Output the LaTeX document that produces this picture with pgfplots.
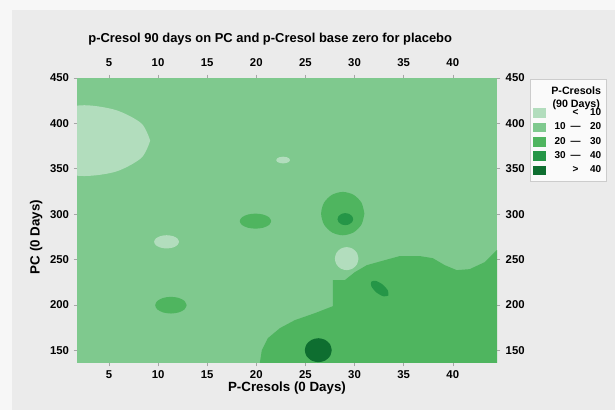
\documentclass[border=0pt]{standalone}
\usepackage{pgfplots}
\pgfplotsset{compat=1.18}
\usepackage{fontspec}
\setmainfont{Liberation Sans}
\definecolor{cA}{HTML}{B2DDBD}
\definecolor{cB}{HTML}{7FC98E}
\definecolor{cC}{HTML}{4FB55F}
\definecolor{cD}{HTML}{259647}
\definecolor{cE}{HTML}{0E6E30}
\definecolor{panel}{HTML}{EBEBEB}
\definecolor{outer}{HTML}{F7F7F7}
\newcommand{\lgent}[3]{\makebox[1.75em][r]{#1}\makebox[2.0em][c]{#2}\makebox[1.55em][r]{#3}}
\begin{document}
\begin{tikzpicture}
\fill[outer] (-57.75pt,-35.25pt) rectangle (403.5pt,272.25pt);
\fill[panel] (-48.75pt,-35.25pt) rectangle (403.5pt,264.75pt);
\begin{axis}[
  at={(0,0)}, anchor=south west,
  scale only axis, width=315pt, height=213.75pt,
  xmin=1.75, xmax=44.5, ymin=136, ymax=450,
  xtick={5,10,...,40}, ytick={150,200,...,450},
  axis background/.style={fill=cB},
  axis line style={draw=none},
  tick align=outside, major tick length=2.5pt,
  tick style={gray!70, thin},
  /pgf/number format/assume math mode=true,
  tick label style={font=\bfseries\fontsize{8.5}{10}\selectfont},
  label style={font=\bfseries\fontsize{10}{12}\selectfont},
  xlabel={P-Cresols (0 Days)}, ylabel={PC (0 Days)},
  xlabel style={at={(axis description cs:0.5,-0.088)}, anchor=center},
  ylabel style={at={(axis description cs:-0.097,0.442)}, anchor=center},
  title={p-Cresol 90 days on PC and p-Cresol base zero for placebo},
  title style={font=\bfseries\fontsize{9.7}{12}\selectfont, at={(axis description cs:0.46,1.137)}, anchor=center, yshift=0pt},
  every axis title shift=0pt,
  legend image code/.code={\fill[#1] (0pt,-3.2pt) rectangle (9pt,3.2pt);},
  legend style={at={(1.0786,0.997)}, anchor=north west, draw=gray!40, fill=white!96!gray,
    font=\bfseries\fontsize{7.5}{8.5}\selectfont, row sep=0pt, inner xsep=2pt, inner ysep=3pt},
  legend cell align=right,
]
% 20-30 lower right region
\addplot[fill=cC, draw=none, forget plot] coordinates {
(20.36,130) (20.36,136) (20.56,150.1) (21.17,163.3) (22.40,174.4) (23.92,183.2)
(25.96,190.9) (27.79,198.6) (27.79,227.3) (29.01,227.3) (30.03,236.1) (31.25,243.8)
(33.08,249.3) (34.60,253.8) (36.64,253.8) (37.96,251.5) (39.18,243.8) (40.40,238.3)
(41.72,239.4) (43.25,247.1) (44.47,260.4) (46,262) (46,130) (20.36,130)};
% 20-30 circle
\addplot[fill=cC, draw=none, smooth, forget plot] coordinates {
(31.0,300.6) (30.71,312.55) (29.9,321.3) (28.8,324.5) (27.7,321.3) (26.89,312.55)
(26.6,300.6) (26.89,288.65) (27.7,279.9) (28.8,276.7) (29.9,279.9) (30.71,288.65) (31.0,300.6)};
% 20-30 spots
\addplot[fill=cC, draw=none, smooth, forget plot] coordinates {
(21.52,292.3) (21.31,296.45) (20.72,299.49) (19.92,300.6) (19.12,299.49) (18.53,296.45)
(18.32,292.3) (18.53,288.15) (19.12,285.11) (19.92,284.0) (20.72,285.11) (21.31,288.15) (21.52,292.3)};
\addplot[fill=cC, draw=none, smooth, forget plot] coordinates {
(12.91,199.7) (12.7,204.3) (12.11,207.67) (11.31,208.9) (10.51,207.67) (9.92,204.3)
(9.71,199.7) (9.92,195.1) (10.51,191.73) (11.31,190.5) (12.11,191.73) (12.7,195.1) (12.91,199.7)};
% <10 regions
\addplot[fill=cA, draw=none, smooth, forget plot] coordinates {
(9.2,381) (8.3,400) (5.75,414.5) (2.5,420.0) (-0.75,414.5) (-3.13,400)
(-4.0,381) (-3.13,362) (-0.75,347.0) (2.5,342.0) (5.75,347.0) (8.3,362) (9.2,381)};
\addplot[fill=cA, draw=none, smooth, forget plot] coordinates {
(23.43,359.6) (23.34,361.45) (23.08,362.8) (22.73,363.3) (22.38,362.8) (22.12,361.45)
(22.03,359.6) (22.12,357.75) (22.38,356.4) (22.73,355.9) (23.08,356.4) (23.34,357.75) (23.43,359.6)};
\addplot[fill=cA, draw=none, smooth, forget plot] coordinates {
(12.14,269.5) (11.97,273.15) (11.51,275.82) (10.87,276.8) (10.24,275.82) (9.77,273.15)
(9.6,269.5) (9.77,265.85) (10.24,263.18) (10.87,262.2) (11.51,263.18) (11.97,265.85) (12.14,269.5)};
\addplot[fill=cA, draw=none, smooth, forget plot] coordinates {
(30.4,251) (30.24,257.35) (29.8,262) (29.2,263.7) (28.6,262) (28.16,257.35)
(28.0,251) (28.16,244.65) (28.6,240) (29.2,238.3) (29.8,240) (30.24,244.65) (30.4,251)};
% 30-40 spots
\addplot[fill=cD, draw=none, smooth, forget plot] coordinates {
(29.86,294.5) (29.75,297.8) (29.46,300.22) (29.06,301.1) (28.66,300.22) (28.37,297.8)
(28.26,294.5) (28.37,291.2) (28.66,288.78) (29.06,287.9) (29.46,288.78) (29.75,291.2) (29.86,294.5)};
\addplot[fill=cD, draw=none, smooth, forget plot] coordinates {
(33.43,210.3) (32.96,209.4) (32.24,213.6) (31.72,220.3) (31.70,225.5) (32.18,226.4)
(32.89,222.2) (33.41,215.5) (33.43,210.3)};
% >40 spot
\addplot[fill=cE, draw=none, smooth, forget plot] coordinates {
(27.68,150.1) (27.5,156.7) (27.0,161.53) (26.31,163.3) (25.63,161.53) (25.12,156.7)
(24.94,150.1) (25.12,143.5) (25.63,138.67) (26.31,136.9) (27.0,138.67) (27.5,143.5) (27.68,150.1)};
% legend
\addlegendimage{empty legend}
\addlegendentry{\fontsize{8}{9.5}\selectfont\begin{tabular}{@{}c@{}}P-Cresols\\(90 Days)\end{tabular}}
\addlegendimage{cA}\addlegendentry{\lgent{}{<}{10}}
\addlegendimage{cB}\addlegendentry{\lgent{10}{---}{20}}
\addlegendimage{cC}\addlegendentry{\lgent{20}{---}{30}}
\addlegendimage{cD}\addlegendentry{\lgent{30}{---}{40}}
\addlegendimage{cE}\addlegendentry{\lgent{}{>}{40}}
\end{axis}
\begin{axis}[
  at={(0,0)}, anchor=south west,
  scale only axis, width=315pt, height=213.75pt,
  xmin=1.75, xmax=44.5, ymin=136, ymax=450,
  xtick={5,10,...,40}, ytick={150,200,...,450},
  axis line style={draw=none}, major tick length=0pt,
  xticklabel pos=right, yticklabel pos=right,
  /pgf/number format/assume math mode=true,
  tick label style={font=\bfseries\fontsize{8.5}{10}\selectfont},
  xticklabel style={yshift=5pt},
  yticklabel style={xshift=3pt},
]
\end{axis}
\end{tikzpicture}
\end{document}
